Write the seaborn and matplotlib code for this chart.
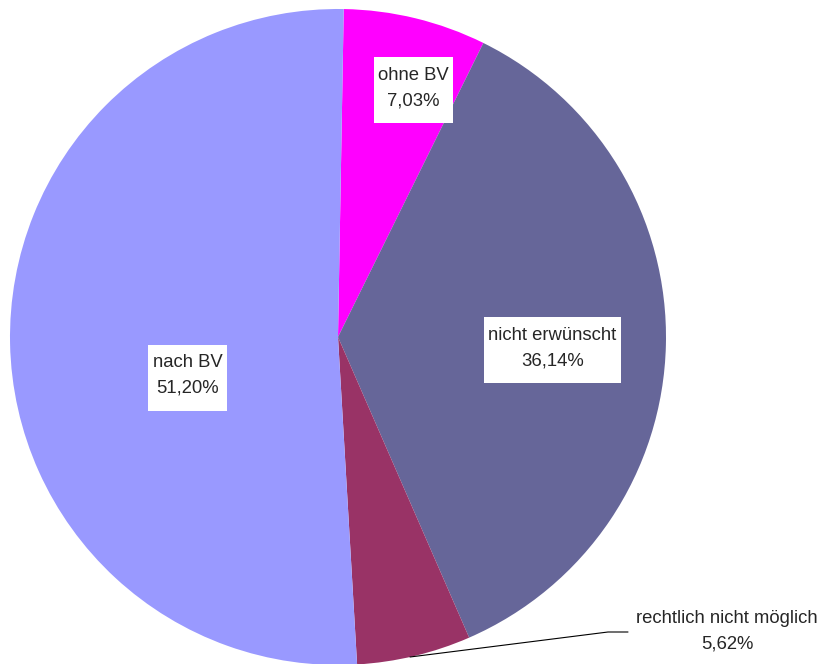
import matplotlib
matplotlib.use("Agg")
import matplotlib.pyplot as plt
from matplotlib.patches import Rectangle
import seaborn as sns

categories = ["ohne BV", "nicht erwünscht", "rechtlich nicht möglich", "nach BV"]
values = [7.03, 36.14, 5.62, 51.20]
pct_labels = ["7,03%", "36,14%", "5,62%", "51,20%"]
colors = ["#FF00FF", "#666699", "#993366", "#9999FF"]

sns.set_style("white")
plt.rcParams["font.family"] = ["Liberation Sans", "DejaVu Sans"]

fig = plt.figure(figsize=(8.27, 6.64), dpi=100)
W, H = 827, 664
cx, cy, r = 338, 337, 328
ax = fig.add_axes([(cx - r) / W, (H - cy - r) / H, 2 * r / W, 2 * r / H])
ax.pie(values, colors=colors, startangle=89, counterclock=False,
       wedgeprops=dict(linewidth=0), radius=1)
ax.set_xlim(-1, 1)
ax.set_ylim(-1, 1)
ax.set_aspect("equal")
ax.axis("off")


def px(x, y):
    return ((x - cx) / r, (cy - y) / r)


fs = 13.3
ls = 1.62
# (text centre x, text centre y, box centre y) in image pixels
label_pos = [(413.5, 88.5, 90), (552.5, 348, 350), None, (187.5, 375.5, 377.5)]
texts = []
for cat, pl, pos in zip(categories, pct_labels, label_pos):
    if pos is None:
        continue
    tx, ty = px(pos[0], pos[1])
    t = ax.text(tx, ty, f"{cat}\n{pl}", ha="center", va="center",
                fontsize=fs, linespacing=ls, clip_on=False, zorder=5)
    texts.append((t, pos))

fig.canvas.draw()
renderer = fig.canvas.get_renderer()
for t, pos in texts:
    bb = t.get_window_extent(renderer)
    w = bb.width + 9
    h = 66
    bx, by = px(pos[0] - w / 2, pos[2] + h / 2)
    ax.add_patch(Rectangle((bx, by), w / r, h / r, facecolor="white",
                           edgecolor="none", zorder=4, clip_on=False))

# leader label
lx, ly = px(727, 631)
ax.text(lx, ly, f"{categories[2]}\n{pct_labels[2]}", ha="center", va="center",
        fontsize=fs, linespacing=ls, clip_on=False)
p1, p2, p3 = px(410, 657), px(608, 632), px(628, 632)
ax.plot([p1[0], p2[0], p3[0]], [p1[1], p2[1], p3[1]], color="black",
        linewidth=0.8, clip_on=False)

fig.savefig("out.png", dpi=100)
